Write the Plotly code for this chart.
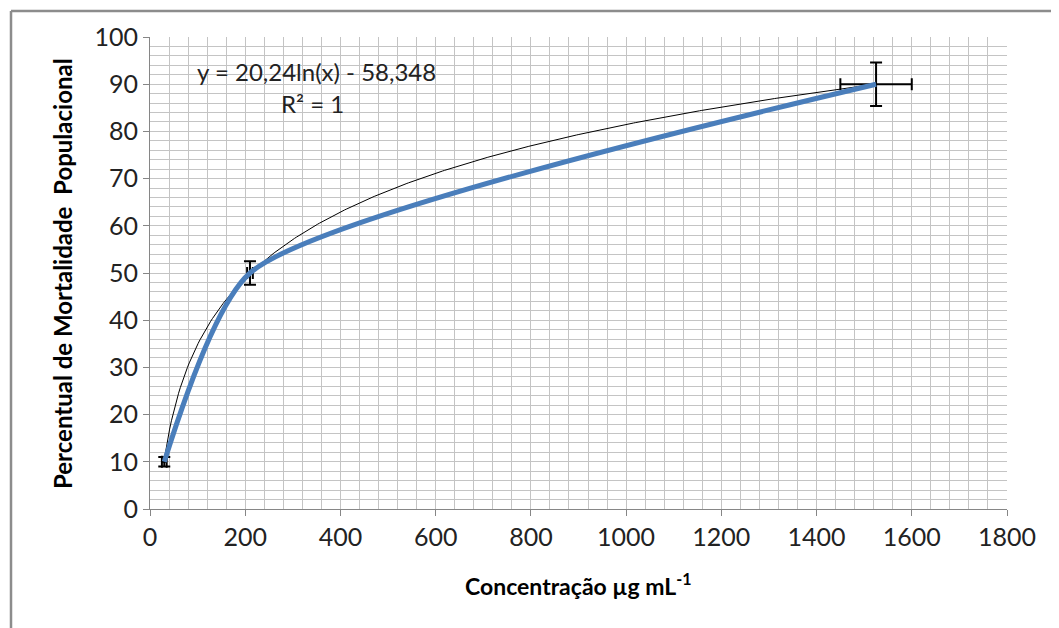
import numpy as np
import plotly.graph_objects as go

# data
conc = [30, 210, 1525]
mortality = [10, 50, 90]
err_y = [1.0, 2.5, 4.6]
err_x = [5, 6, 75]

# logarithmic trendline coefficients (y = a ln(x) + b)
trend_a = 20.24
trend_b = -58.348
trend_label = "y = 20,24ln(x) - 58,348"
r2_label = "R² = 1"

x_ticks = list(range(0, 1801, 200))
y_ticks = list(range(0, 101, 10))

FONT = "Lato"

fig = go.Figure()

tx = np.linspace(min(conc), max(conc), 400)
ty = trend_a * np.log(tx) + trend_b
fig.add_trace(go.Scatter(x=tx, y=ty, mode="lines",
                         line=dict(color="black", width=1), hoverinfo="skip",
                         showlegend=False))

fig.add_trace(go.Scatter(
    x=conc, y=mortality, mode="lines",
    line=dict(color="#4A7EBB", width=5, shape="spline", smoothing=0.6),
    error_y=dict(type="data", array=err_y, color="black", thickness=2, width=6),
    error_x=dict(type="data", array=err_x, color="black", thickness=2, width=6),
    showlegend=False))

grid = "#c4c4c4"
axis_common = dict(showline=True, linecolor="#868686", linewidth=1,
                   ticks="outside", ticklen=6, tickcolor="#868686",
                   showgrid=True, gridcolor=grid, gridwidth=1,
                   zeroline=False, tickfont=dict(family=FONT, size=25, color="#222"))

fig.update_xaxes(range=[0, 1800], tickvals=x_ticks,
                 minor=dict(dtick=40, showgrid=True, gridcolor=grid, ticks=""),
                 **axis_common)
fig.update_yaxes(range=[0, 100], tickvals=y_ticks,
                 minor=dict(dtick=2, showgrid=True, gridcolor=grid, ticks=""),
                 **axis_common)

fig.add_annotation(x=0.052, y=0.926, xref="paper", yref="paper",
                   xanchor="left", yanchor="middle",
                   text=trend_label, showarrow=False,
                   font=dict(family=FONT, size=24, color="#222"))
fig.add_annotation(x=0.19, y=0.86, xref="paper", yref="paper",
                   xanchor="center", yanchor="middle",
                   text=r2_label, showarrow=False,
                   font=dict(family=FONT, size=24, color="#222"))

fig.add_annotation(x=0.5, y=-0.161, xref="paper", yref="paper",
                   xanchor="center", yanchor="middle",
                   text="<b>Concentração µg mL<sup>-1</sup></b>", showarrow=False,
                   font=dict(family=FONT, size=23, color="black"))
fig.add_annotation(x=-0.1027, y=0.5, xref="paper", yref="paper", textangle=-90,
                   xanchor="center", yanchor="middle",
                   text="<b>Percentual de Mortalidade  Populacional</b>", showarrow=False,
                   font=dict(family=FONT, size=24, color="black"))

# outer chart border (left and top edges)
fig.add_shape(type="line", xref="paper", yref="paper",
              x0=(11 - 150) / 857, x1=(1059 - 150) / 857,
              y0=(509 - 11) / 472, y1=(509 - 11) / 472,
              line=dict(color="#8c8c8c", width=2.5), layer="above")
fig.add_shape(type="line", xref="paper", yref="paper",
              x0=(11 - 150) / 857, x1=(11 - 150) / 857,
              y0=(509 - 11) / 472, y1=-0.3,
              line=dict(color="#8c8c8c", width=2.5), layer="above")

fig.update_layout(width=1059, height=628,
                  margin=dict(l=142, r=60, t=29, b=127),
                  plot_bgcolor="white", paper_bgcolor="white")

fig.write_html("out.html")
